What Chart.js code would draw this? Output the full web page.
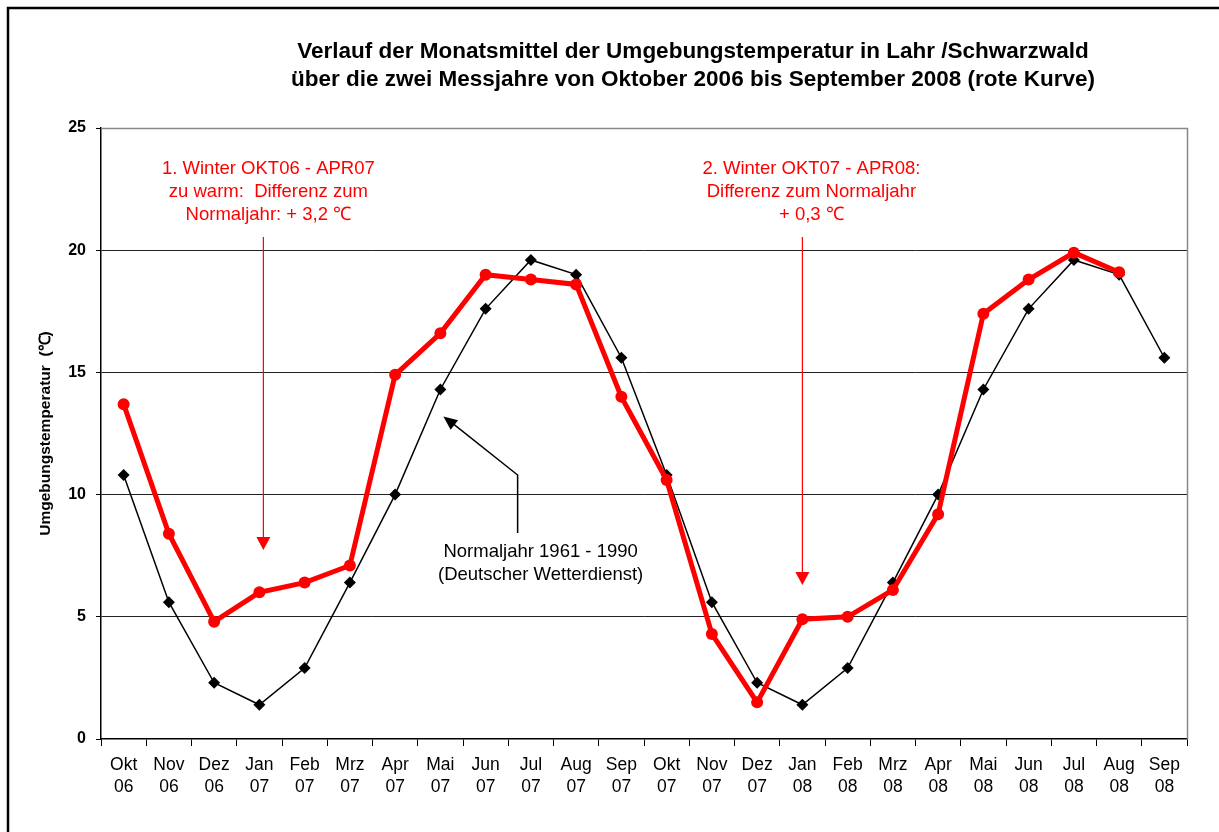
<!DOCTYPE html>
<html>
<head>
<meta charset="utf-8">
<script src="https://cdn.jsdelivr.net/npm/chart.js@4.4.1/dist/chart.umd.min.js"></script>
<style>
html,body{margin:0;padding:0;background:#fff;}
#wrap{width:1219px;height:832px;position:relative;}
</style>
</head>
<body>
<div id="wrap"><canvas id="c" width="1219" height="832"></canvas></div>
<script>
const monthLabels = ['Okt','Nov','Dez','Jan','Feb','Mrz','Apr','Mai','Jun','Jul','Aug','Sep','Okt','Nov','Dez','Jan','Feb','Mrz','Apr','Mai','Jun','Jul','Aug','Sep'];
const yearLabels = ['06','06','06','07','07','07','07','07','07','07','07','07','07','07','07','08','08','08','08','08','08','08','08','08'];
const measuredTemps = [13.7, 8.4, 4.8, 6.0, 6.4, 7.1, 14.9, 16.6, 19.0, 18.8, 18.6, 14.0, 10.6, 4.3, 1.5, 4.9, 5.0, 6.1, 9.2, 17.4, 18.8, 19.9, 19.1, null];
const normalTemps = [10.8, 5.6, 2.3, 1.4, 2.9, 6.4, 10.0, 14.3, 17.6, 19.6, 19.0, 15.6, 10.8, 5.6, 2.3, 1.4, 2.9, 6.4, 10.0, 14.3, 17.6, 19.6, 19.0, 15.6];
const yTicks = [0, 5, 10, 15, 20, 25];
const titleLines = ['Verlauf der Monatsmittel der Umgebungstemperatur in Lahr /Schwarzwald', 'über die zwei Messjahre von Oktober 2006 bis September 2008 (rote Kurve)'];
const yAxisTitle = 'Umgebungstemperatur  (\u2103)';
const note1 = ['1. Winter OKT06 - APR07', 'zu warm:  Differenz zum', 'Normaljahr: + 3,2 \u2103'];
const note2 = ['2. Winter OKT07 - APR08:', 'Differenz zum Normaljahr', '+ 0,3 \u2103'];
const note3 = ['Normaljahr 1961 - 1990', '(Deutscher Wetterdienst)'];

const FONT = 'Arial, "Liberation Sans", sans-serif';
const categories = monthLabels.map((m, i) => [m, yearLabels[i]]);

function arrowHead(ctx, x1, y1, x2, y2, len, wid, color) {
  const a = Math.atan2(y2 - y1, x2 - x1);
  ctx.save();
  ctx.fillStyle = color;
  ctx.beginPath();
  ctx.moveTo(x2, y2);
  ctx.lineTo(x2 - len * Math.cos(a) + wid * Math.sin(a), y2 - len * Math.sin(a) - wid * Math.cos(a));
  ctx.lineTo(x2 - len * Math.cos(a) - wid * Math.sin(a), y2 - len * Math.sin(a) + wid * Math.cos(a));
  ctx.closePath();
  ctx.fill();
  ctx.restore();
}

const decor = {
  id: 'decor',
  beforeDraw(chart) {
    const ctx = chart.ctx;
    ctx.save();
    ctx.fillStyle = '#fff';
    ctx.fillRect(0, 0, chart.width, chart.height);
    ctx.strokeStyle = '#000';
    ctx.lineWidth = 2.5;
    ctx.strokeRect(8, 8, 1400, 1000);
    ctx.restore();
  },
  beforeDatasetsDraw(chart) {
    const ctx = chart.ctx, a = chart.chartArea;
    ctx.save();
    ctx.strokeStyle = '#888';
    ctx.lineWidth = 1.5;
    ctx.beginPath();
    ctx.moveTo(a.left, a.top + 0.5);
    ctx.lineTo(a.right + 0.5, a.top + 0.5);
    ctx.lineTo(a.right + 0.5, a.bottom);
    ctx.stroke();
    ctx.restore();
  },
  afterDraw(chart) {
    const ctx = chart.ctx, a = chart.chartArea;
    const xs = chart.scales.x, ys = chart.scales.y;
    ctx.save();
    // title
    ctx.fillStyle = '#000';
    ctx.font = 'bold 22.5px ' + FONT;
    ctx.textAlign = 'center';
    ctx.textBaseline = 'middle';
    ctx.fillText(titleLines[0], 693, 52);
    ctx.fillText(titleLines[1], 693, 80);
    // y axis title
    ctx.save();
    ctx.translate(46, (a.top + a.bottom) / 2);
    ctx.rotate(-Math.PI / 2);
    ctx.font = 'bold 15.5px ' + FONT;
    ctx.fillText(yAxisTitle, 0, 0);
    ctx.restore();
    // red notes
    ctx.fillStyle = '#ff0000';
    ctx.strokeStyle = '#ff0000';
    ctx.font = '18.5px ' + FONT;
    const n1x = xs.getPixelForValue(3) + 4;
    note1.forEach((t, i) => ctx.fillText(t, n1x + 5, 169 + i * 23));
    const n2x = xs.getPixelForValue(15);
    note2.forEach((t, i) => ctx.fillText(t, n2x + 9, 169 + i * 23));
    ctx.lineWidth = 1.2;
    ctx.beginPath();
    ctx.moveTo(n1x, 237); ctx.lineTo(n1x, 540);
    ctx.moveTo(n2x, 237); ctx.lineTo(n2x, 575);
    ctx.stroke();
    arrowHead(ctx, n1x, 237, n1x, 550, 13, 7, '#ff0000');
    arrowHead(ctx, n2x, 237, n2x, 585, 13, 7, '#ff0000');
    // black note
    ctx.fillStyle = '#000';
    ctx.font = '18.5px ' + FONT;
    const bx = xs.getPixelForValue(8) + 32;
    note3.forEach((t, i) => ctx.fillText(t, bx + 23, 552 + i * 23));
    ctx.strokeStyle = '#000';
    ctx.lineWidth = 1.5;
    const tipX = xs.getPixelForValue(7) + 3, tipY = ys.getPixelForValue(13.2);
    ctx.beginPath();
    ctx.moveTo(bx, 533);
    ctx.lineTo(bx, 475);
    ctx.lineTo(tipX + 8, tipY + 6);
    ctx.stroke();
    arrowHead(ctx, bx, 475, tipX, tipY, 14, 6, '#000');
    ctx.restore();
  }
};

new Chart(document.getElementById('c'), {
  type: 'line',
  data: {
    labels: categories,
    datasets: [
      {
        label: 'Messung',
        data: measuredTemps,
        borderColor: '#ff0000',
        backgroundColor: '#ff0000',
        borderWidth: 5,
        pointRadius: 6,
        pointBorderWidth: 0,
        pointStyle: 'circle',
        tension: 0,
        spanGaps: false
      },
      {
        label: 'Normaljahr',
        data: normalTemps,
        borderColor: '#000',
        backgroundColor: '#000',
        borderWidth: 1.5,
        pointRadius: 6,
        pointBorderWidth: 0,
        pointStyle: 'rectRot',
        tension: 0
      }
    ]
  },
  options: {
    responsive: false,
    animation: false,
    events: [],
    layout: { padding: { left: 0, top: 128, right: 32, bottom: 0 } },
    plugins: { legend: { display: false }, tooltip: { enabled: false }, title: { display: false } },
    scales: {
      x: {
        type: 'category',
        offset: true,
        afterFit(s) { s.height = 93; },
        border: { display: true, color: '#000', width: 1.5 },
        grid: { offset: true, drawOnChartArea: false, drawTicks: true, tickLength: 7, color: '#000', lineWidth: 1 },
        ticks: {
          color: '#000',
          font: { family: FONT, size: 17.5, lineHeight: 1.25 },
          padding: 8,
          maxRotation: 0,
          autoSkip: false
        }
      },
      y: {
        min: 0,
        max: 25,
        afterFit(s) { s.width = 101; },
        afterBuildTicks(s) { s.ticks = yTicks.map(v => ({ value: v })); },
        border: { display: true, color: '#000', width: 1.5 },
        grid: {
          drawTicks: true,
          tickLength: 5,
          color: ctx => (ctx.tick && (ctx.tick.value === 0 || ctx.tick.value === 25)) ? 'rgba(0,0,0,0)' : '#222',
          tickColor: '#000',
          lineWidth: 1
        },
        ticks: {
          color: '#000',
          font: { family: FONT, size: 16, weight: 'bold' },
          padding: 10
        }
      }
    }
  },
  plugins: [decor]
});
</script>
</body>
</html>
